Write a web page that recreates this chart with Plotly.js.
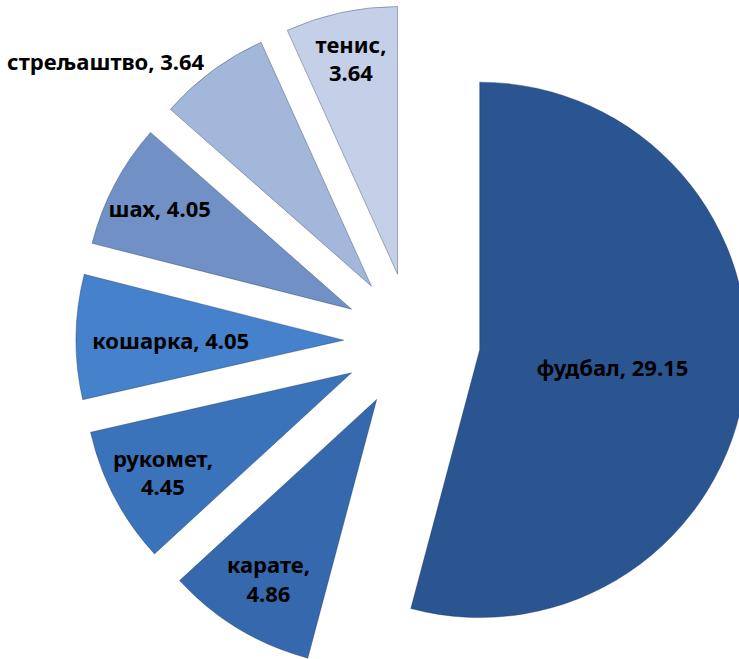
<!DOCTYPE html>
<html>
<head>
<meta charset="utf-8">
<script src="https://cdn.plot.ly/plotly-3.0.1.min.js"></script>
<style>
html, body { margin: 0; padding: 0; overflow: hidden; background: #ffffff; width: 739px; height: 659px; }
#chart { position: absolute; left: 0; top: 0; width: 760px; height: 682px; }
</style>
</head>
<body>
<div id="chart"></div>
<script>
// Data
const sports = ['фудбал', 'карате', 'рукомет', 'кошарка', 'шах', 'стрељаштво', 'тенис'];
const values = [29.15, 4.86, 4.45, 4.05, 4.05, 3.64, 3.64];
const labelFormats = ['%{label}, %{value:.2f}', '%{label},<br>%{value:.2f}', '%{label},<br>%{value:.2f}',
                      '%{label}, %{value:.2f}', '%{label}, %{value:.2f}', '%{label}, %{value:.2f}',
                      '%{label},<br>%{value:.2f}'];
const labelPositions = ['inside', 'inside', 'inside', 'inside', 'inside', 'outside', 'inside'];
const sliceColors = ['#2A5591', '#3568AD', '#3B73BB', '#4582CB', '#7090C6', '#A3B7DA', '#C4D0E8'];

const trace = {
  type: 'pie',
  labels: sports,
  values: values,
  sort: false,
  direction: 'clockwise',
  rotation: 0,
  pull: sports.map(() => 0.255),
  texttemplate: labelFormats,
  textposition: labelPositions,
  insidetextorientation: 'horizontal',
  textfont: { family: 'Noto Sans, sans-serif', size: 22, color: '#000000', weight: 700 },
  outsidetextfont: { family: 'Noto Sans, sans-serif', size: 22, color: '#000000', weight: 700 },
  marker: { colors: sliceColors, line: { color: 'rgba(20,40,80,0.35)', width: 1 } },
  domain: { x: [0.1, 0.9842], y: [0.0073, 0.9927] },
  hoverinfo: 'none',
  showlegend: false
};

const layout = {
  width: 760,
  height: 682,
  margin: { l: 0, r: 0, t: 0, b: 0 },
  paper_bgcolor: '#ffffff',
  plot_bgcolor: '#ffffff',
  showlegend: false,
  uniformtext: { minsize: 22, mode: 'show' }
};

Plotly.newPlot('chart', [trace], layout, { displayModeBar: false, staticPlot: true });
</script>
</body>
</html>
